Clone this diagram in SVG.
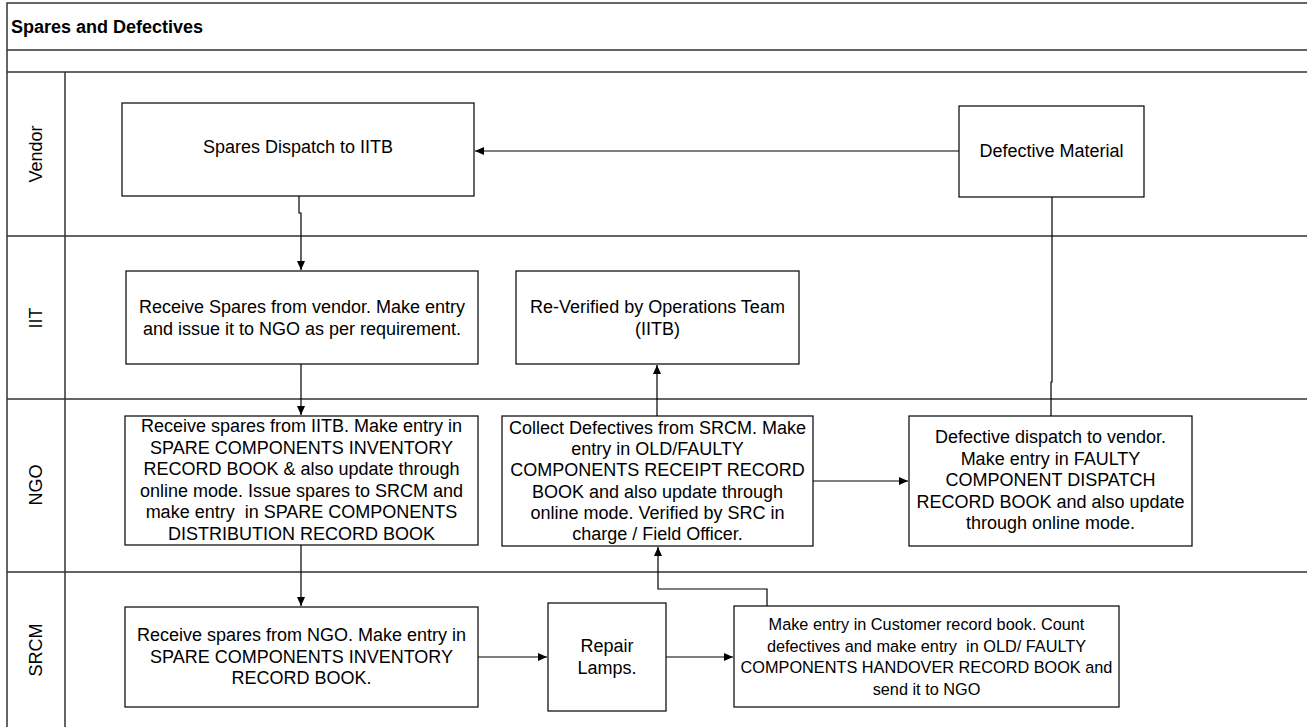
<svg xmlns="http://www.w3.org/2000/svg" width="1307" height="727" viewBox="0 0 1307 727">
<style>
.frame{stroke:#333;stroke-width:1.5;fill:none}
.box{fill:#fff;stroke:#000;stroke-width:1.2}
.t{font-family:"Liberation Sans",Arial,sans-serif;font-size:18px;fill:#000;text-anchor:middle}
.s{font-size:16.3px}
.title{font-family:"Liberation Sans",Arial,sans-serif;font-size:18px;font-weight:bold;fill:#000}
.lane{font-family:"Liberation Sans",Arial,sans-serif;font-size:18px;fill:#000;text-anchor:middle}
.c{fill:none;stroke:#000;stroke-width:1.2}
</style>
<defs>
<marker id="ah" markerUnits="userSpaceOnUse" markerWidth="10" markerHeight="8" refX="9" refY="4" orient="auto">
<path d="M0,0 L9,4 L0,8 Z" fill="#000"/>
</marker>
</defs>
<rect x="0" y="0" width="1307" height="727" fill="#fff"/>
<g id="pool">
<path class="frame" d="M7,727 V3 H1307 M7,50 H1307 M7,72 H1307 M7,236 H1307 M7,399 H1307 M7,572 H1307 M65,72 V727"/>
<text class="title" x="11" y="33">Spares and Defectives</text>
</g>
<g id="lane-vendor"><text class="lane" transform="translate(42,154) rotate(-90)">Vendor</text></g>
<g id="lane-iit"><text class="lane" transform="translate(42,318) rotate(-90)">IIT</text></g>
<g id="lane-ngo"><text class="lane" transform="translate(42,485) rotate(-90)">NGO</text></g>
<g id="lane-srcm"><text class="lane" transform="translate(42,650) rotate(-90)">SRCM</text></g>
<g id="connectors">
<path class="c" d="M299,196 V213 H301 V270" marker-end="url(#ah)"/>
<path class="c" d="M301,364 V415" marker-end="url(#ah)"/>
<path class="c" d="M301,545 V606" marker-end="url(#ah)"/>
<path class="c" d="M478,657 H547" marker-end="url(#ah)"/>
<path class="c" d="M666,657 H733" marker-end="url(#ah)"/>
<path class="c" d="M767,606 V589 H658 V547" marker-end="url(#ah)"/>
<path class="c" d="M657,416 V365" marker-end="url(#ah)"/>
<path class="c" d="M813,481 H908" marker-end="url(#ah)"/>
<path class="c" d="M1051,416 V382 H1052 V197"/>
<path class="c" d="M959,151 H475" marker-end="url(#ah)"/>
</g>
<g id="n-spares-dispatch">
<rect class="box" x="122" y="103" width="352" height="93"/>
<text class="t" x="298" y="153">Spares Dispatch to IITB</text>
</g>
<g id="n-defective-material">
<rect class="box" x="959" y="106" width="185" height="91"/>
<text class="t" x="1051.5" y="157">Defective Material</text>
</g>
<g id="n-receive-vendor">
<rect class="box" x="126" y="271" width="352" height="93"/>
<text class="t" x="302" y="313">Receive Spares from vendor. Make entry</text>
<text class="t" x="302" y="334.6">and issue it to NGO as per requirement.</text>
</g>
<g id="n-reverified">
<rect class="box" x="516" y="271" width="283" height="93"/>
<text class="t" x="657.5" y="313">Re-Verified by Operations Team</text>
<text class="t" x="657.5" y="334.6">(IITB)</text>
</g>
<g id="n-ngo-receive">
<rect class="box" x="125" y="416" width="353" height="129"/>
<text class="t" x="301.5" y="432" xml:space="preserve">Receive spares from IITB. Make entry in</text>
<text class="t" x="301.5" y="453.6">SPARE COMPONENTS INVENTORY</text>
<text class="t" x="301.5" y="475.2">RECORD BOOK &amp; also update through</text>
<text class="t" x="301.5" y="496.8">online mode. Issue spares to SRCM and</text>
<text class="t" x="301.5" y="518.4" xml:space="preserve">make entry  in SPARE COMPONENTS</text>
<text class="t" x="301.5" y="540">DISTRIBUTION RECORD BOOK</text>
</g>
<g id="n-ngo-collect">
<rect class="box" x="502" y="416" width="311" height="130"/>
<text class="t" x="657.5" y="434">Collect Defectives from SRCM. Make</text>
<text class="t" x="657.5" y="455.2">entry in OLD/FAULTY</text>
<text class="t" x="657.5" y="476.4">COMPONENTS RECEIPT RECORD</text>
<text class="t" x="657.5" y="497.6">BOOK and also update through</text>
<text class="t" x="657.5" y="518.8">online mode. Verified by SRC in</text>
<text class="t" x="657.5" y="540">charge / Field Officer.</text>
</g>
<g id="n-ngo-dispatch">
<rect class="box" x="909" y="416" width="283" height="130"/>
<text class="t" x="1050.5" y="443">Defective dispatch to vendor.</text>
<text class="t" x="1050.5" y="464.6">Make entry in FAULTY</text>
<text class="t" x="1050.5" y="486.2">COMPONENT DISPATCH</text>
<text class="t" x="1050.5" y="507.8">RECORD BOOK and also update</text>
<text class="t" x="1050.5" y="529.4">through online mode.</text>
</g>
<g id="n-srcm-receive">
<rect class="box" x="125" y="607" width="353" height="100"/>
<text class="t" x="301.5" y="641">Receive spares from NGO. Make entry in</text>
<text class="t" x="301.5" y="662.6">SPARE COMPONENTS INVENTORY</text>
<text class="t" x="301.5" y="684.2">RECORD BOOK.</text>
</g>
<g id="n-repair">
<rect class="box" x="548" y="603" width="118" height="108"/>
<text class="t" x="607" y="652">Repair</text>
<text class="t" x="607" y="673.6">Lamps.</text>
</g>
<g id="n-srcm-entry">
<rect class="box" x="734" y="606" width="385" height="101"/>
<text class="t s" x="926.5" y="630">Make entry in Customer record book. Count</text>
<text class="t s" x="926.5" y="651.6" xml:space="preserve">defectives and make entry  in OLD/ FAULTY</text>
<text class="t s" x="926.5" y="673.2">COMPONENTS HANDOVER RECORD BOOK and</text>
<text class="t s" x="926.5" y="694.8">send it to NGO</text>
</g>
</svg>
